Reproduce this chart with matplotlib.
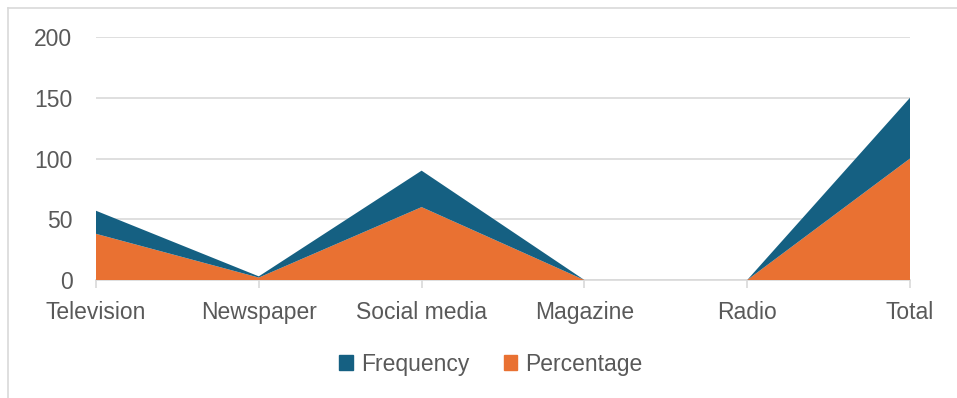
import matplotlib
matplotlib.use('Agg')
import matplotlib.pyplot as plt
from matplotlib.patches import Patch
from matplotlib.lines import Line2D

# media sources and the two stacked series
sources = ['Television', 'Newspaper', 'Social media', 'Magazine', 'Radio', 'Total']
frequency = [19, 1, 30, 0, 0, 50]
percentage = [38, 2, 60, 0, 0, 100]

blue = '#156082'
orange = '#e97132'
txt = '#595959'
gridc = '#d9d9d9'

plt.rcParams['font.family'] = ['Liberation Sans', 'DejaVu Sans']

fig = plt.figure(figsize=(9.57, 3.98), dpi=100)
ax = fig.add_axes([96/957, 1 - 280/398, (910 - 96)/957, (280 - 37)/398])

x = list(range(len(sources)))
ax.stackplot(x, percentage, frequency, colors=[orange, blue], linewidth=0)

ax.set_xlim(0, len(sources) - 1)
ax.set_ylim(0, 200)
ax.set_yticks([0, 50, 100, 150, 200])
ax.set_xticks(x)
ax.set_xticklabels(sources)
ax.grid(axis='y', color=gridc, linewidth=1.2)
ax.set_axisbelow(True)
for s in ['top', 'right', 'left']:
    ax.spines[s].set_visible(False)
ax.spines['bottom'].set_color(gridc)
ax.spines['bottom'].set_linewidth(1.2)
ax.spines['bottom'].set_zorder(0.5)
ax.tick_params(axis='y', length=0, pad=17, labelsize=16.5, labelcolor=txt)
ax.tick_params(axis='x', length=6, width=1.2, color=gridc, pad=9,
               labelsize=16.5, labelcolor=txt)

handles = [Patch(color=blue, label='Frequency'), Patch(color=orange, label='Percentage')]
fig.legend(handles=handles, loc='center', bbox_to_anchor=(0.513, 1 - 364/398),
           ncol=2, frameon=False, fontsize=16.5, labelcolor=txt,
           handlelength=0.6, handleheight=0.6, handletextpad=0.35, columnspacing=1.5)

# chart frame
fig.add_artist(Line2D([8/957, 8/957], [0, 1 - 8/398], color=gridc, linewidth=1.2,
                      transform=fig.transFigure))
fig.add_artist(Line2D([8/957, 1], [1 - 8/398, 1 - 8/398], color=gridc, linewidth=1.2,
                      transform=fig.transFigure))

fig.savefig('out.png', dpi=100)
